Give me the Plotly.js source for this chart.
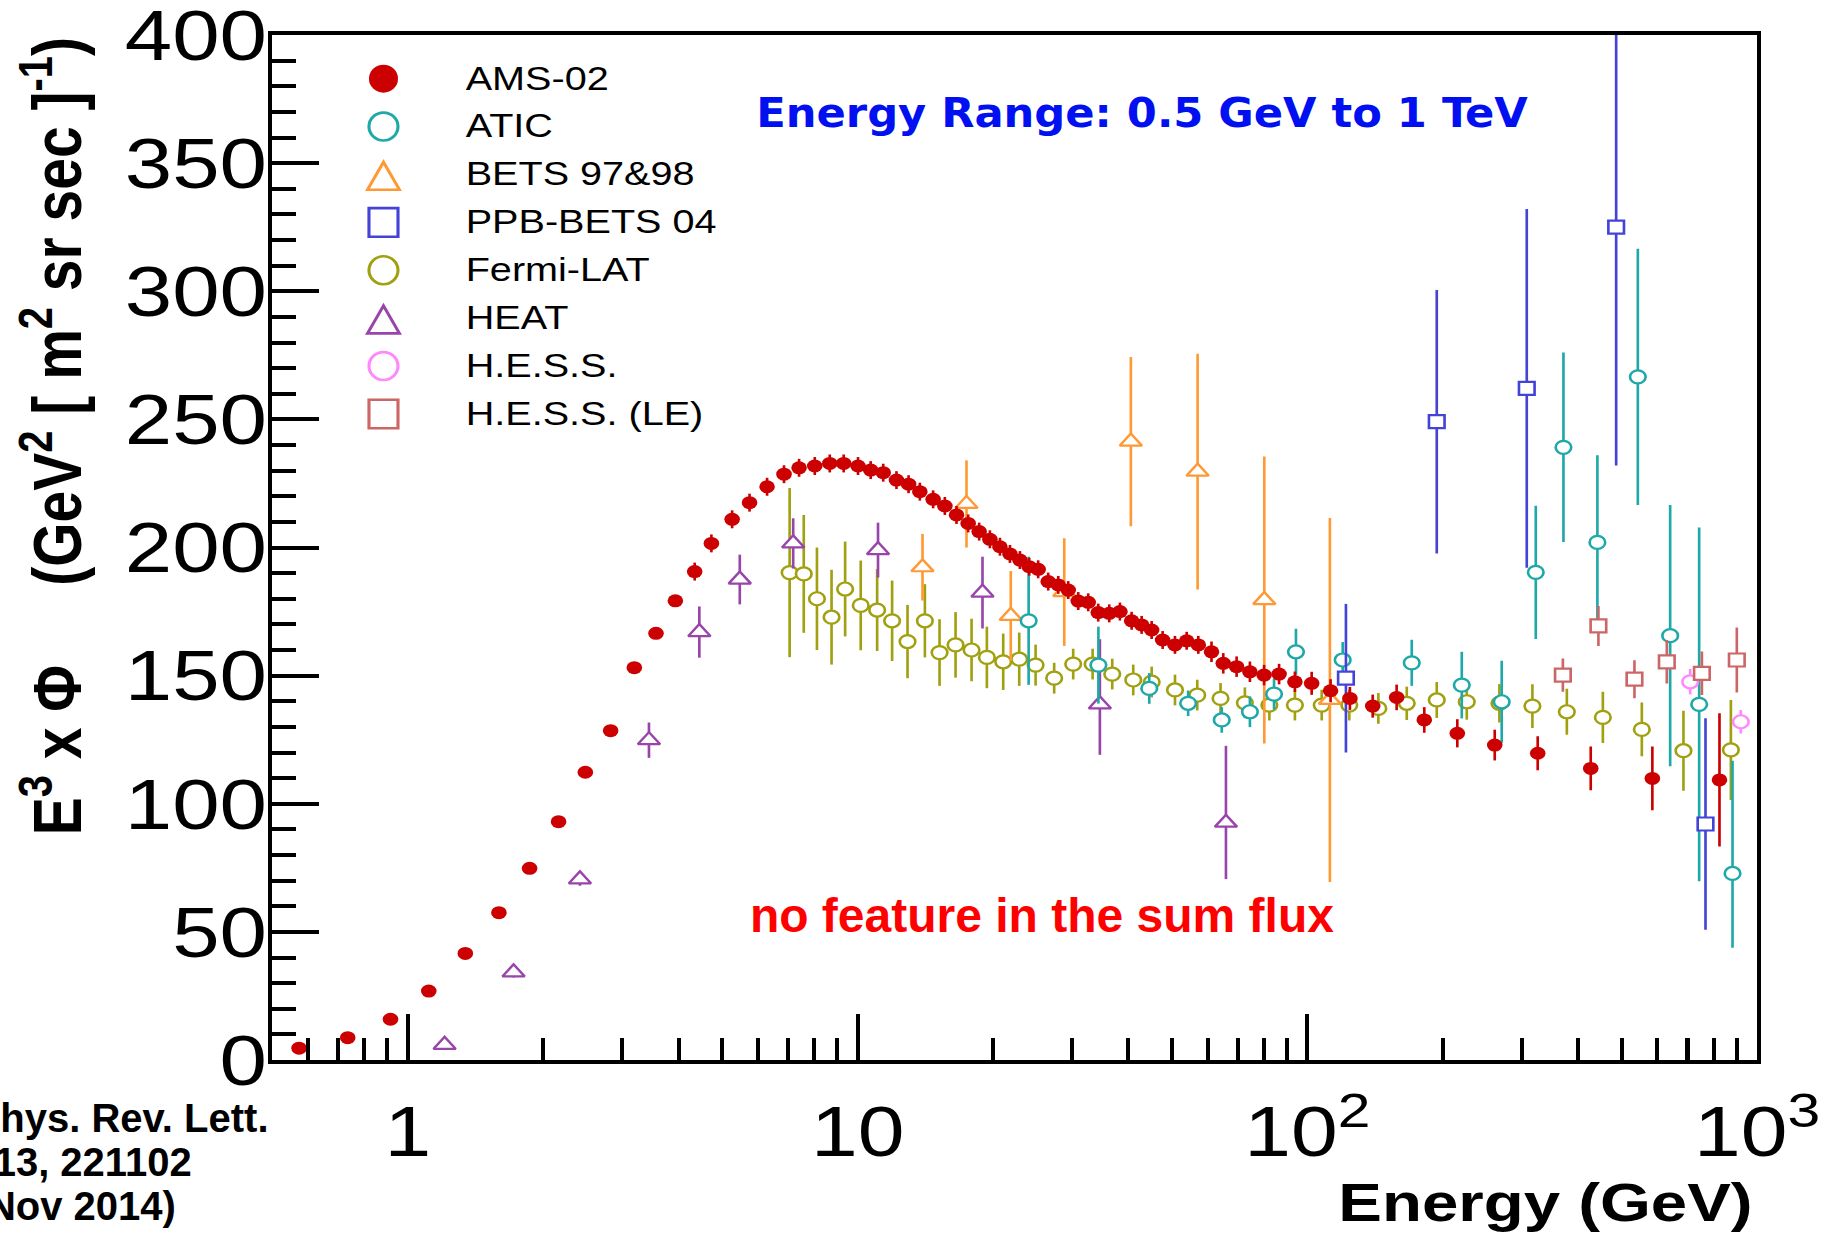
<!DOCTYPE html>
<html>
<head>
<meta charset="utf-8">
<script src="https://cdn.plot.ly/plotly-3.0.1.min.js"></script>
<style>
html, body { margin: 0; padding: 0; overflow: hidden; background: #ffffff; }
#chart { width: 1518px; height: 1235px; transform: scaleX(1.200264); transform-origin: 0 0; }
</style>
</head>
<body>
<div id="chart"></div>
<script>
// ---------------- data (E in GeV, E^3 x flux) ----------------
const amsE = [0.573, 0.735, 0.915, 1.113, 1.342, 1.594, 1.865, 2.163, 2.481, 2.824, 3.188, 3.562, 3.933, 4.342, 4.73, 5.26, 5.75, 6.29, 6.86, 7.41, 8.03, 8.67, 9.31, 10.02, 10.69, 11.40, 12.20, 12.98, 13.75, 14.72, 15.63, 16.59, 17.61, 18.63, 19.68, 20.72, 21.81, 22.95, 24.07, 25.20, 26.53, 27.93, 29.39, 30.94, 32.56, 34.27, 36.26, 38.30, 40.66, 42.8, 45.05, 47.66, 50.76, 53.89, 57.2, 61.2, 65.0, 69.6, 74.5, 80.1, 86.5, 93.8, 102.2, 112.6, 124.3, 139.7, 157.9, 181.9, 215.4, 260.9, 325.1, 426.5, 584.7, 824.5];
const amsFlux = [4.6, 8.7, 15.9, 26.9, 41.6, 57.5, 74.8, 93.0, 112.3, 128.5, 153.1, 166.5, 179.2, 190.6, 201.6, 211, 217.5, 223.7, 228.6, 231.1, 231.8, 232.8, 232.8, 231.8, 230.2, 229.2, 226.3, 224.7, 221.8, 218.8, 216.2, 212.7, 209.4, 206.2, 203.2, 200.3, 197.5, 195.1, 192.5, 191.5, 186.7, 185.4, 183.4, 179.1, 178.6, 174.6, 174.3, 175, 171.4, 169.8, 167.8, 163.9, 162, 163.6, 162, 159.3, 154.8, 153.5, 151.5, 150.2, 150.6, 147.6, 147, 144.1, 141.1, 138.1, 141.5, 132.7, 127.5, 122.9, 119.7, 113.8, 109.9, 109.3];
const amsErr = [1.5, 1.5, 1.5, 1.5, 1.5, 1.5, 1.5, 1.5, 1.5, 1.5, 1.5, 1.5, 1.5, 3.5, 3.5, 3.5, 3.5, 3.5, 3.5, 3.5, 3.5, 3.5, 3.5, 3.5, 3.5, 3.5, 3.5, 3.5, 3.5, 3.5, 3.5, 3.5, 3.5, 3.5, 3.5, 3.5, 3.5, 3.5, 3.5, 3.5, 3.5, 3.5, 3.5, 3.5, 3.5, 3.5, 3.5, 3.5, 3.5, 3.5, 3.5, 3.5, 3.5, 3.5, 3.5, 4, 4, 4, 4, 4, 4, 4, 4.5, 4.5, 4.5, 4.5, 5, 5, 5.5, 6, 6.6, 8.5, 12.4, 26];

const aticE = [24.0, 34.3, 44.5, 54.3, 64.5, 74.5, 84.3, 94.3, 119.8, 170.6, 220.4, 270.4, 321.9, 370.9, 441.3, 542.8, 640.5, 743, 881.4];
const aticFlux = [171.4, 154.1, 145, 139.2, 132.7, 135.9, 142.8, 159.3, 156.1, 155, 146.3, 139.8, 190.3, 239.1, 202, 266.6, 165.6, 138.8, 72.8];
const aticErrUp = [25, 15, 6, 5, 5, 6, 6, 9, 7, 9, 13, 16, 26, 37, 34, 50, 51, 69, 44];
const aticErrDown = [25, 15, 6, 5, 5, 6, 6, 9, 7, 9, 13, 16, 26, 37, 34, 50, 51, 69, 29];

const betsE = [13.94, 17.46, 21.9, 28.8, 40.5, 57.0, 80.2, 112.2];
const betsFlux = [192.3, 217, 173.3, 182.6, 241.3, 229.6, 179.5, 140.5];
const betsErr = [13, 17, 17.5, 21, 33, 46, 56, 71];

const ppbE = [121.8, 193.9, 307.4, 485.8, 767.5];
const ppbFlux = [149, 249.1, 262.1, 325, 92.1];
const ppbErr = [29, 51.4, 70, 93, 41.3];

const fermiE = [7.06, 7.59, 8.12, 8.75, 9.38, 10.16, 11.05, 11.93, 12.91, 14.11, 15.21, 16.51, 17.92, 19.38, 21.07, 22.87, 24.87, 27.35, 30.15, 33.3, 36.82, 41.0, 45.06, 50.77, 56.9, 64.1, 72.6, 82.3, 93.8, 107.6, 123.9, 143.8, 166.3, 193.9, 226.1, 267.2, 316.4, 377.4, 453.8, 554, 685.6, 874];
const fermiFlux = [190.2, 189.7, 180, 172.8, 183.8, 177.4, 175.6, 171.4, 163.3, 171.4, 159, 162, 160, 157.1, 155.4, 156.4, 154.1, 149, 154.5, 154.5, 150.6, 148.3, 147.5, 144.4, 142.4, 141.1, 139.4, 138.5, 138.5, 138.5, 138.5, 137.2, 139.2, 140.5, 139.8, 139.2, 138.1, 135.9, 133.7, 129, 120.7, 121];
const fermiErr = [33, 23, 20, 18.5, 18.5, 17.5, 16, 15.7, 14.3, 14.3, 13, 12.8, 12.2, 12, 11, 10.4, 8, 6, 6, 6, 6, 6, 6, 6, 6, 6, 6, 6, 6, 6, 6, 6, 6.5, 7, 7, 7.5, 8.5, 9, 10, 10.5, 15.6, 19.5];

const heatE = [1.207, 1.718, 2.413, 3.436, 4.447, 5.47, 7.19, 11.10, 18.95, 34.56, 65.9];
const heatFlux = [5.9, 34.2, 70.5, 124.8, 167, 187.5, 201.6, 199, 182.4, 138.8, 92.6];
const heatErrUp = [1.5, 2, 2.5, 6.9, 10, 9.7, 9.8, 10.7, 14, 25.4, 30];
const heatErrDown = [1.5, 2, 2.5, 6.9, 10, 9.7, 9.8, 10.7, 14, 19.7, 22];

const hessE = [709.6, 919.8];
const hessFlux = [147.6, 132];
const hessErr = [5, 4.6];

const hessLeE = [369.8, 443.6, 533.5, 629.6, 753.5, 901];
const hessLeFlux = [150.2, 169.4, 148.6, 155.4, 150.9, 156.1];
const hessLeErr = [6.5, 7.8, 7.4, 8.5, 8.5, 12.7];

const seriesNames = ['AMS-02', 'ATIC', 'BETS 97&98', 'PPB-BETS 04', 'Fermi-LAT', 'HEAT', 'H.E.S.S.', 'H.E.S.S. (LE)'];

// ---------------- styling ----------------
const COL = {
  ams: '#cc0000', atic: '#1fa8a8', bets: '#ff9933', ppb: '#4343d8',
  fermi: '#a0a010', heat: '#9944aa', hess: '#ff88ff', hessLe: '#cc6666'
};

function series(rank, x, y, up, down, color, symbol, size, filled) {
  return {
    type: 'scatter', mode: 'markers', name: seriesNames[rank], legendrank: rank + 1,
    legendgroup: seriesNames[rank],
    x: x, y: y,
    error_y: { type: 'data', symmetric: false, array: up, arrayminus: down, color: color, thickness: 2.2, width: 0 },
    marker: filled ? { color: color, size: size, symbol: symbol, line: { width: 0 } }
                   : { color: '#ffffff', size: size, symbol: symbol, line: { color: color, width: 2.2 } },
    cliponaxis: true
  };
}

const traces = [
  series(4, fermiE, fermiFlux, fermiErr, fermiErr, COL.fermi, 'circle', 13, false),
  series(5, heatE, heatFlux, heatErrUp, heatErrDown, COL.heat, 'triangle-up', 16, false),
  series(2, betsE, betsFlux, betsErr, betsErr, COL.bets, 'triangle-up', 16, false),
  series(1, aticE, aticFlux, aticErrUp, aticErrDown, COL.atic, 'circle', 13, false),
  series(3, ppbE, ppbFlux, ppbErr, ppbErr, COL.ppb, 'square', 13, false),
  series(6, hessE, hessFlux, hessErr, hessErr, COL.hess, 'circle', 13, false),
  series(7, hessLeE, hessLeFlux, hessLeErr, hessLeErr, COL.hessLe, 'square', 13, false),
  series(0, amsE, amsFlux, amsErr, amsErr, COL.ams, 'circle', 13, true)
];

const layout = {
  width: 1518, height: 1235,
  margin: { l: 227, r: 54, t: 35, b: 175, pad: 0 },
  paper_bgcolor: '#ffffff', plot_bgcolor: '#ffffff',
  font: { family: 'Liberation Sans, Arial, sans-serif', color: '#000000' },
  showlegend: true,
  legend: {
    x: 0.0194, y: 0.9866, xanchor: 'left', yanchor: 'top',
    bgcolor: 'rgba(0,0,0,0)', borderwidth: 0,
    font: { family: 'Liberation Sans, Arial, sans-serif', size: 33, color: '#000000' },
    itemwidth: 127, tracegroupgap: 2, traceorder: 'grouped'
  },
  xaxis: {
    type: 'log', range: [Math.log10(0.5), 3],
    dtick: 1, tick0: 0, exponentformat: 'power',
    ticks: 'inside', ticklen: 46, tickwidth: 3.4, tickcolor: '#000000',
    minor: { ticks: 'inside', ticklen: 22, tickwidth: 3.4, tickcolor: '#000000', dtick: 'D1', showgrid: false },
    showline: true, linewidth: 4, linecolor: '#000000', mirror: true,
    showgrid: false, zeroline: false,
    tickfont: { family: 'Liberation Sans, Arial, sans-serif', size: 56, color: '#000000' },
    ticklabelstandoff: 11, ticklabeloverflow: 'allow'
  },
  yaxis: {
    range: [0, 400], dtick: 50, tick0: 0,
    ticks: 'inside', ticklen: 39, tickwidth: 4, tickcolor: '#000000',
    minor: { ticks: 'inside', ticklen: 20, tickwidth: 4, tickcolor: '#000000', dtick: 10, showgrid: false },
    showline: true, linewidth: 3.4, linecolor: '#000000', mirror: true,
    showgrid: false, zeroline: false,
    tickfont: { family: 'Liberation Sans, Arial, sans-serif', size: 71, color: '#000000' },
    ticklabelstandoff: -13, ticklabeloverflow: 'allow'
  },
  annotations: [
    { xref: 'paper', yref: 'paper', x: 0.5853, y: 0.9239, xanchor: 'center', yanchor: 'middle', showarrow: false,
      text: '<b>Energy Range: 0.5 GeV to 1 TeV</b>',
      font: { family: 'DejaVu Sans Condensed, DejaVu Sans, sans-serif', size: 40, color: '#0010f0' } },
    { xref: 'paper', yref: 'paper', x: 0.518, y: 0.1405, xanchor: 'center', yanchor: 'middle', showarrow: false,
      text: '<b>no feature in the sum flux</b>',
      font: { family: 'Liberation Sans, Arial, sans-serif', size: 48, color: '#ff0000' } },
    { xref: 'paper', yref: 'paper', x: 0.998, y: -0.1395, xanchor: 'right', yanchor: 'middle', showarrow: false,
      text: '<b>Energy (GeV)</b>',
      font: { family: 'Liberation Sans, Arial, sans-serif', size: 54.5, color: '#000000' } },
    { xref: 'paper', yref: 'paper', x: -0.1485, y: 1.0, xanchor: 'center', yanchor: 'top', showarrow: false, textangle: -90,
      text: '<b>E<sup>3</sup> x Φ&nbsp;&nbsp;&nbsp;&nbsp;&nbsp;(GeV<sup>2</sup> [ m<sup>2</sup> sr sec ]<sup>-1</sup>)</b>',
      font: { family: 'Liberation Sans, Arial, sans-serif', size: 57, color: '#000000' } },
    { xref: 'paper', yref: 'paper', x: -0.2026, y: -0.0566, xanchor: 'left', yanchor: 'middle', showarrow: false,
      text: '<b>Phys. Rev. Lett.</b>',
      font: { family: 'Liberation Sans, Arial, sans-serif', size: 40, color: '#000000' } },
    { xref: 'paper', yref: 'paper', x: -0.2026, y: -0.0995, xanchor: 'left', yanchor: 'middle', showarrow: false,
      text: '<b>113, 221102</b>',
      font: { family: 'Liberation Sans, Arial, sans-serif', size: 40, color: '#000000' } },
    { xref: 'paper', yref: 'paper', x: -0.2026, y: -0.1424, xanchor: 'left', yanchor: 'middle', showarrow: false,
      text: '<b>(Nov 2014)</b>',
      font: { family: 'Liberation Sans, Arial, sans-serif', size: 40, color: '#000000' } }
  ]
};

// The notes (red text, reference) were written on top of the stretched figure:
// undo the page's horizontal stretch for those text items only.
const STRETCH = 1.200264;
const unstretchAnchor = { '1': 'middle', '4': 'start', '5': 'start', '6': 'start' };
// legend symbols are drawn larger in the reference than Plotly's 16px legend cap
const legendSymbolScale = {
  'circle': { sx: 1.86, sy: 2.15, dy: 2 },
  'square': { sx: 1.86, sy: 2.2, dy: 2 },
  'triangle-up': { sx: 1.44, sy: 2.3, dy: 8 }
};

Plotly.newPlot('chart', traces, layout, { displayModeBar: false, responsive: false, staticPlot: true })
  .then(function (gd) {
    gd.querySelectorAll('g.annotation').forEach(function (g) {
      const i = g.getAttribute('data-index');
      if (!(i in unstretchAnchor)) return;
      const t = g.querySelector('text.annotation-text');
      if (!t) return;
      const bb = t.getBBox();
      const mode = unstretchAnchor[i];
      const cx = mode === 'middle' ? bb.x + bb.width / 2 : (mode === 'start' ? bb.x : bb.x + bb.width);
      const prev = t.getAttribute('transform') || '';
      t.setAttribute('transform', prev + ' translate(' + cx + ',0) scale(' + (1 / STRETCH) + ',1) translate(' + (-cx) + ',0)');
    });
    gd.querySelectorAll('.legend g.traces').forEach(function (tr) {
      const d = tr.__data__;
      const trace = d && d[0] && d[0].trace;
      if (!trace) return;
      const s = legendSymbolScale[trace.marker.symbol];
      if (!s) return;
      tr.querySelectorAll('path.scatterpts').forEach(function (p) {
        const prev = p.getAttribute('transform') || '';
        p.setAttribute('transform', prev + ' translate(0,' + s.dy + ') scale(' + s.sx + ',' + s.sy + ')');
        p.style.vectorEffect = 'non-scaling-stroke';
        if (trace.marker.line && trace.marker.line.width) p.style.strokeWidth = '2.6px';
      });
    });
  });
</script>
</body>
</html>
